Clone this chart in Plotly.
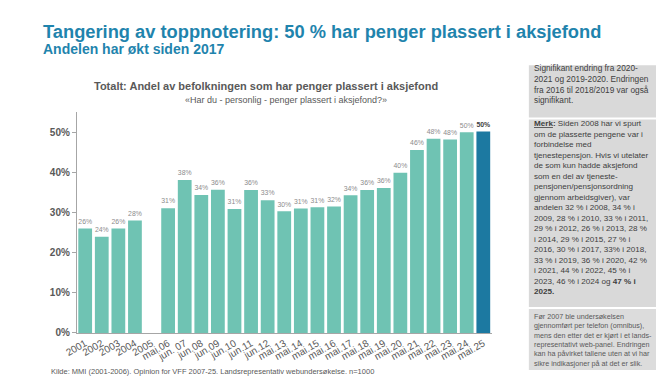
import plotly.graph_objects as go

categories = ["2001", "2002", "2003", "2004", "2005", "mai.06", "jun. 07", "jun.08", "jun.09",
              "jun.10", "jun.11", "jun.12", "mai.13", "mai.14", "mai.15", "mai.16", "mai.17",
              "mai.18", "mai.19", "mai.20", "mai.21", "mai.22", "mai.23", "mai.24", "mai.25"]
values = [26, 24, 26, 28, None, 31.1, 38.1, 34.4, 35.7, 30.9, 35.6, 33.1, 30.3, 31.0, 31.3,
          31.5, 34.3, 35.6, 36.1, 39.9, 45.6, 48.4, 48.2, 50.0, 50.2]
y_ticks = [0, 10, 20, 30, 40, 50]
y_tick_labels = ["0%", "10%", "20%", "30%", "40%", "50%"]

W, H = 664, 376
TEAL = "#6fc3b3"
DARK = "#1c79a1"
TITLE_C = "#1f84ad"

colors = [TEAL] * (len(categories) - 1) + [DARK]
texts = []
for i, v in enumerate(values):
    if v is None:
        texts.append("")
    elif i == len(values) - 1:
        texts.append(f"<b>{v:.0f}%</b>")
    else:
        texts.append(f"{v:.0f}%")
text_colors = ["#8c8c8c"] * (len(categories) - 1) + ["#404040"]

fig = go.Figure()
fig.add_trace(go.Bar(
    x=categories, y=values, marker=dict(color=colors, line=dict(width=0)),
    text=texts, textposition="outside", cliponaxis=False,
    textfont=dict(size=8, color=text_colors, family="Liberation Sans, Arial"),
    hoverinfo="skip",
))

def px(x):
    return x / W

def py(y):
    return 1 - y / H

fig.update_layout(
    width=W, height=H, margin=dict(l=0, r=0, t=0, b=0),
    paper_bgcolor="white", plot_bgcolor="white",
    showlegend=False, bargap=0.17,
    font=dict(family="Liberation Sans, Arial", color="#595959"),
    xaxis=dict(domain=[px(57), px(480)], type="category", tickangle=-30,
               tickfont=dict(size=10, color="#595959"),
               showline=True, linecolor="#a6a6a6", linewidth=1,
               showgrid=False, ticks="", range=[-0.5, 24.5], ticklabelstandoff=0),
    yaxis=dict(domain=[py(329.3), py(105.7)], range=[0, 55],
               tickvals=y_ticks, ticktext=["<b>%s</b>" % t for t in y_tick_labels],
               tickfont=dict(size=10, color="#595959"),
               showline=True, linecolor="#a6a6a6", linewidth=1,
               ticks="outside", ticklen=4, tickcolor="#a6a6a6",
               showgrid=False, zeroline=False),
)

shapes = [
    dict(type="rect", xref="paper", yref="paper", x0=px(518), x1=px(658), y0=py(111), y1=py(58),
         fillcolor="#d9d9d9", line=dict(width=0), layer="below"),
    dict(type="rect", xref="paper", yref="paper", x0=px(518), x1=px(658), y0=py(303), y1=py(113),
         fillcolor="#d9d9d9", line=dict(width=0), layer="below"),
    dict(type="rect", xref="paper", yref="paper", x0=px(518), x1=px(658), y0=py(367), y1=py(305),
         fillcolor="#dcdcdc", line=dict(width=0), layer="below"),
]
fig.update_layout(shapes=shapes)

box1 = ("Signifikant endring fra 2020-<br>2021 og 2019-2020. Endringen<br>"
        "fra 2016 til 2018/2019 var også<br>signifikant.")
box2 = ("<b><u>Merk</u>:</b> Siden 2008 har vi spurt<br>om de plasserte pengene var i<br>"
        "forbindelse med<br>tjenestepensjon. Hvis vi utelater<br>de som kun hadde aksjefond<br>"
        "som en del av tjeneste-<br>pensjonen/pensjonsordning<br>gjennom arbeidsgiver), var<br>"
        "andelen 32 % i 2008, 34 % i<br>2009, 28 % i 2010, 33 % i 2011,<br>"
        "29 % i 2012, 26 % i 2013, 28 %<br>i 2014, 29 % i 2015, 27 % i<br>"
        "2016, 30 % i 2017, 33% i 2018,<br>33 % i 2019, 36 % i 2020, 42 %<br>"
        "i 2021, 44 % i 2022, 45 % i<br>2023, 46 % i 2024 og <b>47 % i</b><br><b>2025.</b>")
box3 = ("Før 2007 ble undersøkelsen<br>gjennomført per telefon (omnibus),<br>"
        "mens den etter det er kjørt i et lands-<br>representativt web-panel. Endringen<br>"
        "kan ha påvirket tallene uten at vi har<br>sikre indikasjoner på at det er slik.")

ann = [
    dict(text="<b>Tangering av toppnotering: 50 % har penger plassert i aksjefond</b>",
         x=px(20), y=py(24), xanchor="left", yanchor="middle",
         font=dict(size=18.3, color=TITLE_C, family="Liberation Sans, Arial")),
    dict(text="<b>Andelen har økt siden 2017</b>",
         x=px(20), y=py(42), xanchor="left", yanchor="middle",
         font=dict(size=14, color=TITLE_C, family="Liberation Sans, Arial")),
    dict(text="<b>Totalt: Andel av befolkningen som har penger plassert i aksjefond</b>",
         x=px(250), y=py(79), xanchor="center", yanchor="middle",
         font=dict(size=11, color="#595959")),
    dict(text="«Har du - personlig - penger plassert i aksjefond?»",
         x=px(270), y=py(93), xanchor="center", yanchor="middle",
         font=dict(size=9, color="#595959")),
    dict(text=box1, x=px(521), y=py(54), xanchor="left", yanchor="top", align="left",
         font=dict(size=8.3, color="#404040")),
    dict(text=box2, x=px(521), y=py(110), xanchor="left", yanchor="top", align="left",
         font=dict(size=8.1, color="#404040")),
    dict(text=box3, x=px(521), y=py(306), xanchor="left", yanchor="top", align="left",
         font=dict(size=7.2, color="#595959")),
    dict(text="Kilde: MMI (2001-2006). Opinion for VFF 2007-25. Landsrepresentativ webundersøkelse. n=1000",
         x=px(29), y=py(368), xanchor="left", yanchor="middle",
         font=dict(size=7.5, color="#595959")),
]
for a in ann:
    a.setdefault("xref", "paper")
    a.setdefault("yref", "paper")
    a["showarrow"] = False
fig.update_layout(annotations=ann)

fig.write_html("out.html")
